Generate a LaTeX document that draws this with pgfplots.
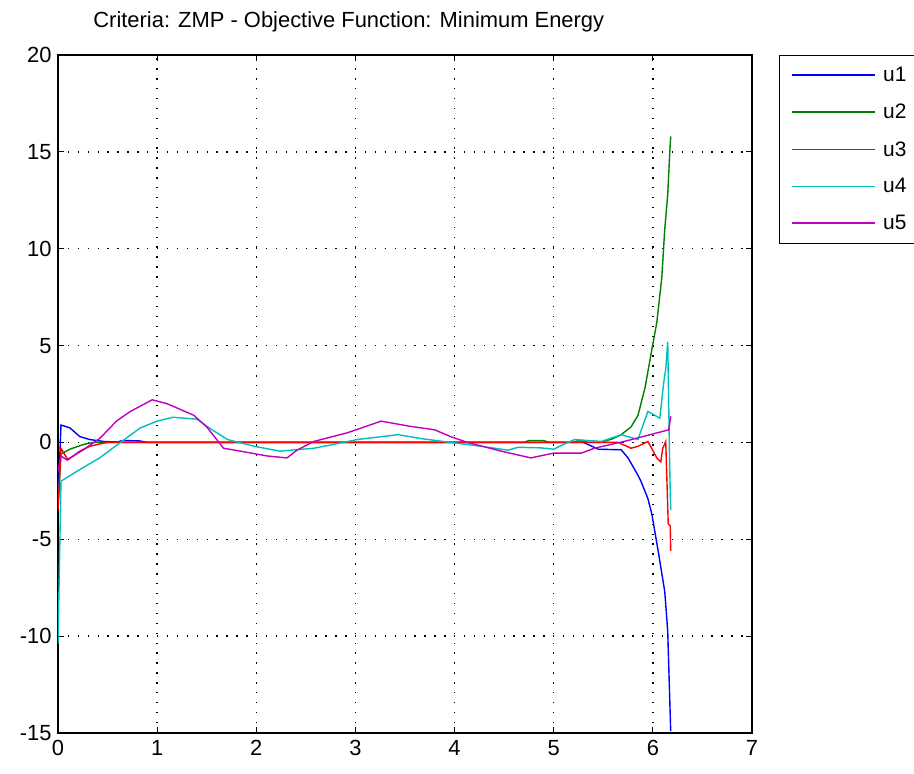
\documentclass[border=0pt]{standalone}
\usepackage{pgfplots}
\pgfplotsset{compat=1.18}
\usepackage{fontspec}
\setmainfont{Liberation Sans}
\setsansfont{Liberation Sans}

\definecolor{mblue}{rgb}{0,0,1}
\definecolor{mgreen}{rgb}{0,0.5,0}
\definecolor{mred}{rgb}{1,0,0}
\definecolor{mcyan}{rgb}{0,0.75,0.75}
\definecolor{mmag}{rgb}{0.75,0,0.75}

\begin{document}
\begin{tikzpicture}
\begin{axis}[
    name=ax,
    at={(0,0)}, anchor=south west,
    scale only axis,
    width=694bp,
    height=678bp,
    xmin=0, xmax=7,
    ymin=-15, ymax=20,
    xtick={0,1,...,7},
    ytick={-15,-10,...,20},
    tick align=inside,
    major tick length=6bp,
    axis line style={black, line width=1.2bp},
    every tick/.style={black, line width=1bp},
    grid=major,
    grid style={black, line width=1.4bp, dash pattern=on 1.4bp off 8.5bp},
    /pgf/number format/assume math mode=true,
    tick label style={font=\fontsize{22}{26}\selectfont},
    yticklabel style={xshift=-3bp},
    xticklabel style={yshift=-4bp},
    title={Criteria: ZMP - Objective Function: Minimum Energy},
    title style={at={(0.419,1)}, anchor=base, yshift=22bp, font=\fontsize{22}{26}\selectfont},
    legend style={at={(1,1)}, anchor=north west, xshift=27bp, draw=black, line width=0.9bp,
        font=\fontsize{21}{25}\selectfont, inner xsep=12bp, inner ysep=10bp, row sep=17bp,
        cells={anchor=west},
        /tikz/every odd column/.append style={column sep=5bp}},
    legend image code/.code={\draw[#1, line width=1.8bp] (0bp,0bp) -- (83bp,0bp);},
    every axis plot/.append style={line width=1.4bp},
]

\addplot[mblue] coordinates {
(0,-3.2) (0.03,0.9) (0.12,0.75) (0.22,0.3) (0.32,0.15) (0.46,0.05) (0.6,0.02) (0.65,0.1) (0.82,0.08) (0.9,0) (5.3,0) (5.45,-0.35) (5.68,-0.38) (5.75,-0.8) (5.85,-1.7) (5.88,-2.0) (5.95,-2.9) (5.99,-3.7) (6.02,-4.6) (6.06,-5.8) (6.12,-7.7) (6.15,-9.75) (6.17,-13.2) (6.18,-14.9)
};
\addlegendentry{u1}

\addplot[mgreen] coordinates {
(0,-3.4) (0.03,-0.6) (0.12,-0.35) (0.26,-0.1) (0.36,0) (4.7,0) (4.75,0.1) (4.9,0.1) (4.95,0) (5.2,0) (5.25,0.1) (5.35,0) (5.48,0) (5.6,0.2) (5.68,0.4) (5.78,0.8) (5.85,1.4) (5.92,2.8) (5.99,4.8) (6.04,6.2) (6.09,8.5) (6.12,11) (6.15,12.8) (6.17,14.9) (6.18,15.8)
};
\addlegendentry{u2}

\addplot[mred] coordinates {
(0,-3.5) (0.03,-0.3) (0.1,-0.9) (0.22,-0.45) (0.32,-0.2) (0.42,-0.08) (0.5,0) (5.65,0) (5.78,-0.3) (5.85,-0.2) (5.95,0.05) (6.04,-0.8) (6.08,-1.0) (6.1,-0.3) (6.13,0.05) (6.155,-4.2) (6.175,-4.3) (6.18,-5.6)
};
\addlegendentry{u3}

\addplot[mcyan] coordinates {
(0,-10.4) (0.03,-2.0) (0.22,-1.4) (0.42,-0.8) (0.63,0) (0.83,0.75) (1.0,1.1) (1.16,1.3) (1.4,1.2) (1.54,0.7) (1.71,0.15) (1.98,-0.2) (2.24,-0.45) (2.58,-0.3) (2.78,-0.1) (3.02,0.15) (3.43,0.4) (3.66,0.2) (3.96,0) (4.27,-0.2) (4.54,-0.4) (4.64,-0.25) (4.87,-0.28) (5.0,-0.35) (5.08,-0.15) (5.21,0.15) (5.48,0.05) (5.68,0.4) (5.85,0.15) (5.95,1.6) (6.02,1.4) (6.07,1.25) (6.11,3.1) (6.13,3.8) (6.15,5.2) (6.17,-1.3) (6.18,-3.5)
};
\addlegendentry{u4}

\addplot[mmag] coordinates {
(0,-1.5) (0.03,-0.7) (0.09,-0.9) (0.25,-0.4) (0.42,0.2) (0.59,1.1) (0.73,1.6) (0.95,2.2) (1.1,2.0) (1.37,1.4) (1.5,0.8) (1.67,-0.3) (1.84,-0.45) (2.11,-0.7) (2.31,-0.8) (2.41,-0.4) (2.58,0.05) (2.92,0.5) (3.26,1.1) (3.53,0.85) (3.8,0.65) (3.96,0.3) (4.13,0) (4.47,-0.45) (4.77,-0.8) (5.0,-0.55) (5.28,-0.55) (5.41,-0.3) (5.71,0.05) (6.16,0.65) (6.18,1.35)
};
\addlegendentry{u5}

\end{axis}
\pgfresetboundingbox
\useasboundingbox ([shift={(-58bp,-41bp)}]ax.south west) rectangle ([shift={(856bp,733bp)}]ax.south west);
\end{tikzpicture}
\end{document}
